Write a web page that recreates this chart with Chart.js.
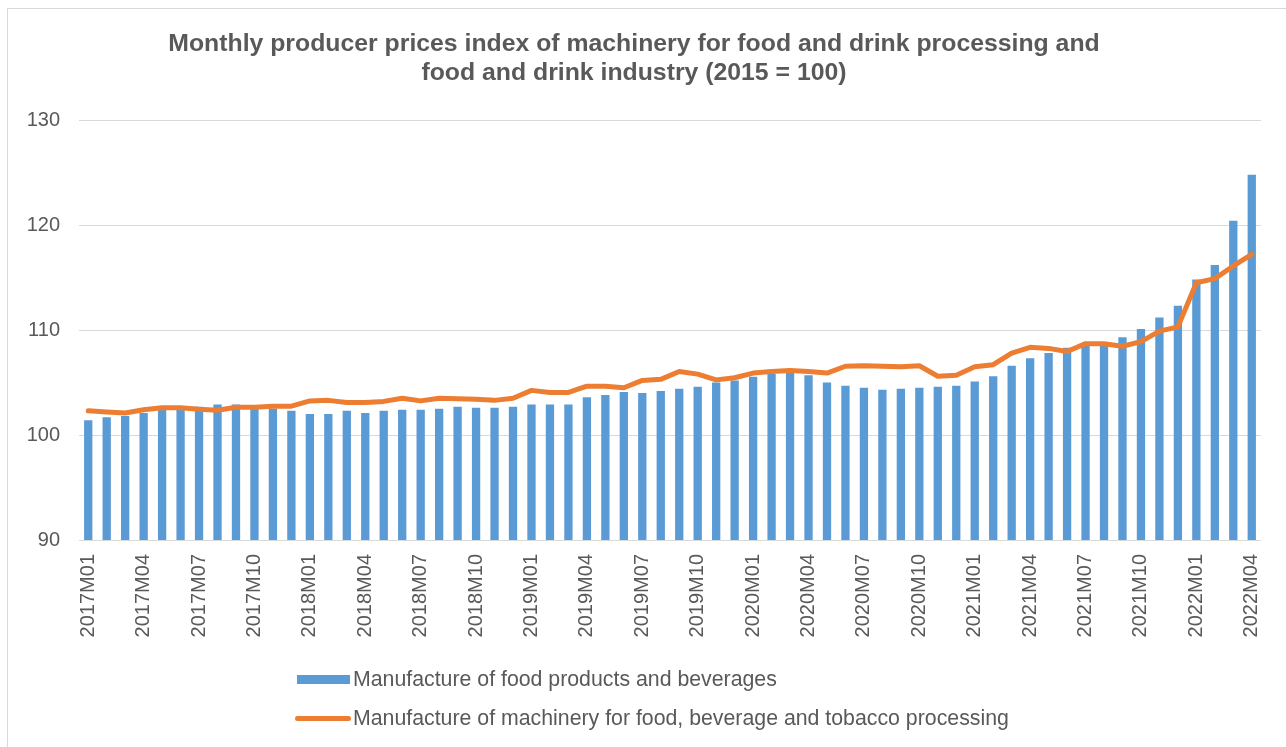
<!DOCTYPE html>
<html>
<head>
<meta charset="utf-8">
<script src="https://cdn.jsdelivr.net/npm/chart.js@4.4.1/dist/chart.umd.min.js"></script>
<style>
  html, body { margin: 0; padding: 0; background: #fff; }
  body { width: 1286px; height: 747px; position: relative; overflow: hidden; font-family: "Liberation Sans", Arial, sans-serif; }
  #frame { position: absolute; left: 7px; top: 8px; width: 1300px; height: 760px; border: 1px solid #D9D9D9; box-sizing: border-box; }
  #wrap { position: absolute; left: 0; top: 0; width: 1286px; height: 747px; }
  .leg { position: absolute; left: 295px; height: 24px; display: flex; align-items: center; color: #595959; font-size: 21.3px; white-space: nowrap; }
  .leg .sw { width: 56px; margin-right: 2px; }
</style>
</head>
<body>
<div id="frame"></div>
<div id="wrap"><canvas id="c" width="1286" height="747"></canvas></div>
<div class="leg" style="top:667px;"><div class="sw" style="height:9px;background:#5B9BD5;width:53px;margin-left:2px;margin-right:3px;"></div><span>Manufacture of food products and beverages</span></div>
<div class="leg" style="top:706px;"><div class="sw" style="height:5px;background:#ED7D31;border-radius:3px;"></div><span>Manufacture of machinery for food, beverage and tobacco processing</span></div>
<script>
const categories = (function () {
  const out = [];
  const years = [2017, 2018, 2019, 2020, 2021, 2022];
  for (const y of years) {
    for (let m = 1; m <= 12; m++) {
      if (y === 2022 && m > 4) break;
      out.push(y + 'M' + (m < 10 ? '0' + m : '' + m));
    }
  }
  return out;
})();

const foodProducts = [
  101.4, 101.7, 101.8, 102.1, 102.4, 102.4, 102.7, 102.9, 102.9, 102.5, 102.5, 102.3,
  102.0, 102.0, 102.3, 102.1, 102.3, 102.4, 102.4, 102.5, 102.7, 102.6, 102.6, 102.7,
  102.9, 102.9, 102.9, 103.6, 103.8, 104.1, 104.0, 104.2, 104.4, 104.6, 105.0, 105.2,
  105.55, 105.8, 105.9, 105.7, 105.0, 104.7, 104.5, 104.3, 104.4, 104.5, 104.6, 104.7,
  105.1, 105.6, 106.6, 107.3, 107.8, 108.3, 108.6, 108.7, 109.3, 110.1, 111.2, 112.3,
  114.8, 116.2, 120.4, 124.8
];

const machinery = [
  102.3, 102.2, 102.1, 102.4, 102.6, 102.6, 102.45, 102.35, 102.65, 102.65, 102.75, 102.75,
  103.25, 103.3, 103.1, 103.1, 103.2, 103.5, 103.25, 103.5, 103.45, 103.4, 103.3, 103.5,
  104.25, 104.05, 104.05, 104.65, 104.65, 104.5, 105.2, 105.3, 106.05, 105.8, 105.25, 105.45,
  105.9, 106.05, 106.15, 106.05, 105.9, 106.55, 106.6, 106.55, 106.5, 106.6, 105.6, 105.7,
  106.5, 106.7, 107.8, 108.35, 108.25, 107.95, 108.7, 108.7, 108.45, 108.9, 109.9, 110.3,
  114.5, 114.9, 116.1, 117.2
];

const yTicks = [90, 100, 110, 120, 130];
const titleLines = [
  'Monthly producer prices index of machinery for food and drink processing and',
  'food and drink industry (2015 = 100)'
];
const seriesNames = [
  'Manufacture of food products and beverages',
  'Manufacture of machinery for food, beverage and tobacco processing'
];

const FONT = '"Liberation Sans", Arial, sans-serif';
const GREY = '#595959';

new Chart(document.getElementById('c'), {
  data: {
    labels: categories,
    datasets: [
      {
        type: 'line',
        label: seriesNames[1],
        data: machinery,
        borderColor: '#ED7D31',
        backgroundColor: '#ED7D31',
        borderWidth: 5,
        pointRadius: 0,
        tension: 0,
        borderJoinStyle: 'round',
        borderCapStyle: 'round',
        order: 0
      },
      {
        type: 'bar',
        label: seriesNames[0],
        data: foodProducts,
        backgroundColor: '#5B9BD5',
        borderWidth: 0,
        categoryPercentage: 1.0,
        barPercentage: 0.45,
        order: 1
      }
    ]
  },
  options: {
    responsive: false,
    animation: false,
    devicePixelRatio: 1,
    layout: { padding: { left: 7, right: 25, top: 0, bottom: 0 } },
    plugins: {
      legend: { display: false },
      tooltip: { enabled: false },
      title: {
        display: true,
        text: titleLines,
        color: GREY,
        font: { family: FONT, size: 24.8, weight: 'bold', lineHeight: 1.17 },
        padding: { top: 30, bottom: 32 }
      }
    },
    scales: {
      x: {
        grid: { display: false, drawTicks: false },
        border: { display: false },
        ticks: {
          autoSkip: false,
          minRotation: 90,
          maxRotation: 90,
          padding: 14,
          color: GREY,
          font: { family: FONT, size: 20 },
          callback: function (v, i) { return i % 3 === 0 ? categories[i] : ''; }
        },
        afterFit: function (s) { s.height = 747 - 540; s.paddingRight = 0; s.paddingLeft = 0; }
      },
      y: {
        min: 90,
        max: 130,
        grid: { color: '#D9D9D9', lineWidth: 1, drawTicks: false },
        border: { display: false },
        afterBuildTicks: function (s) { s.ticks = yTicks.map(v => ({ value: v })); },
        ticks: {
          padding: 19,
          color: GREY,
          font: { family: FONT, size: 20 }
        },
        afterFit: function (s) { s.width = 72; }
      }
    }
  }
});
</script>
</body>
</html>
